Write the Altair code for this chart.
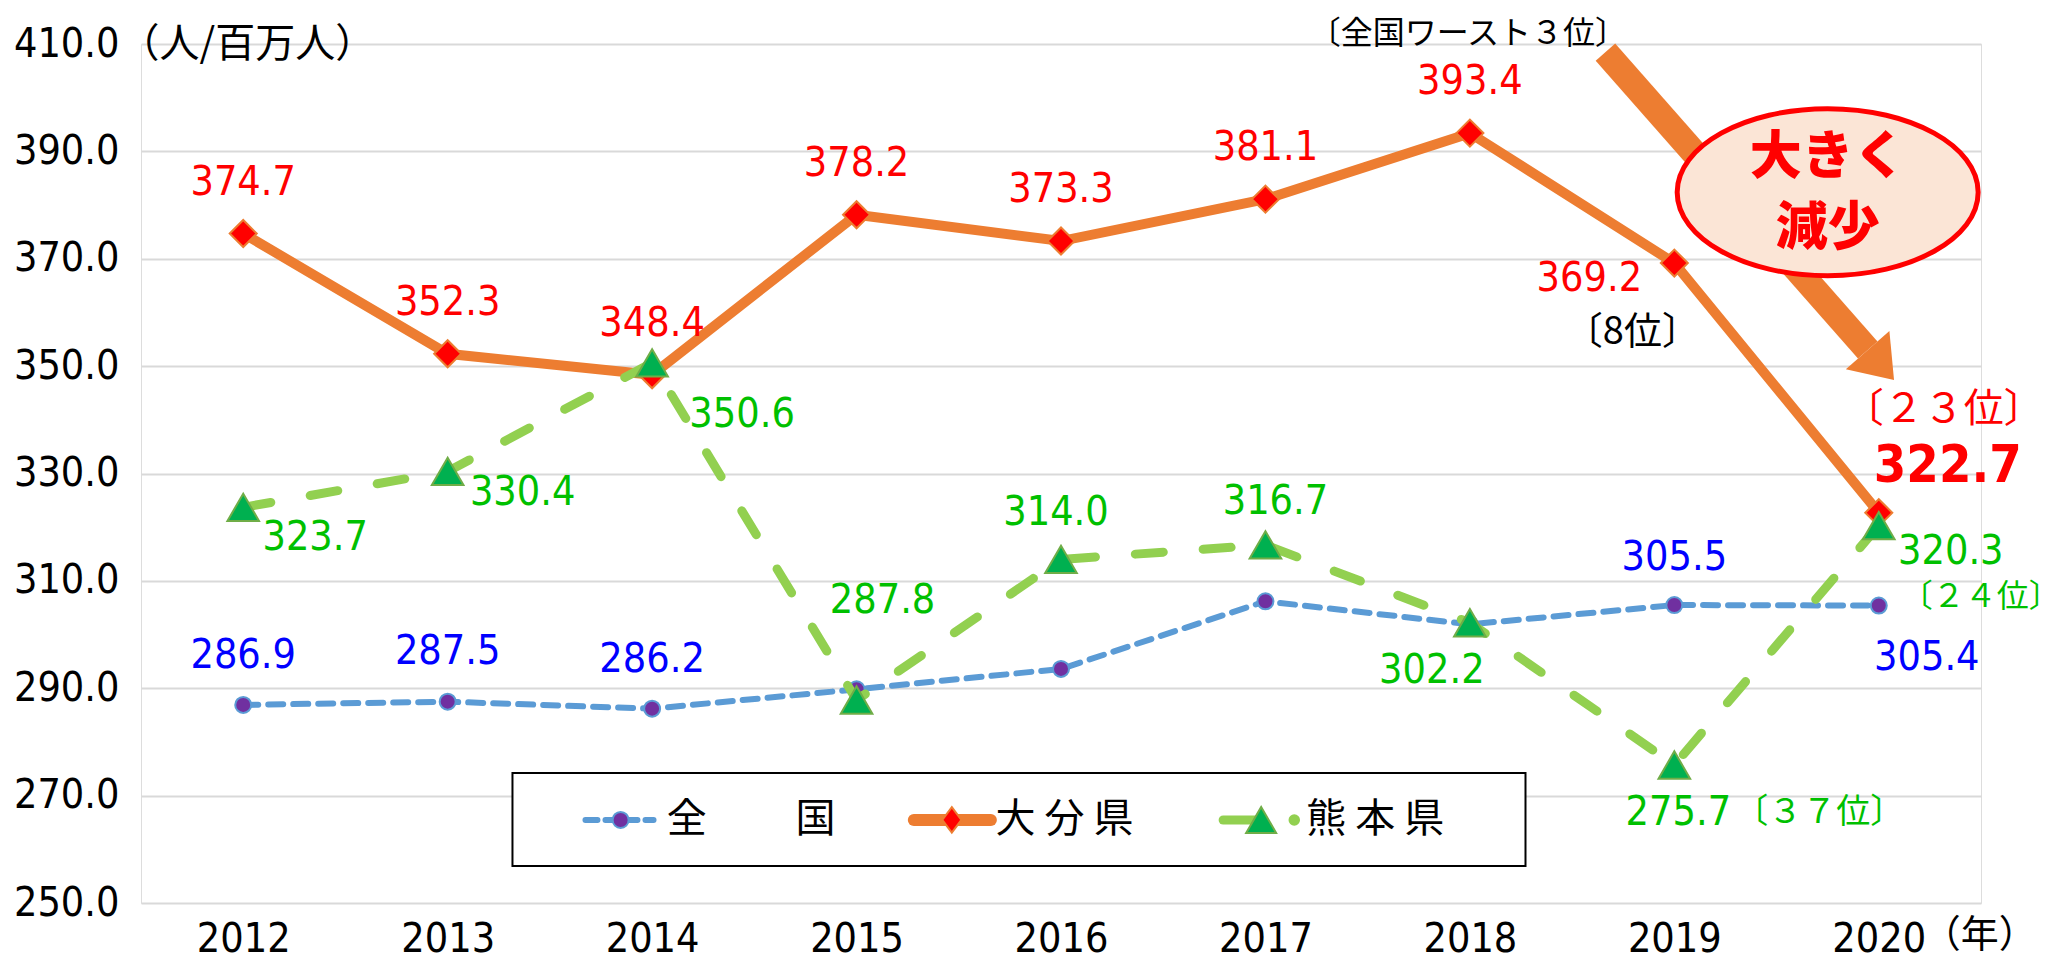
import altair as alt
import pandas as pd

# ---------------- data ----------------
years = [2012, 2013, 2014, 2015, 2016, 2017, 2018, 2019, 2020]
national = [286.9, 287.5, 286.2, 289.8, 293.6, 306.2, 301.9, 305.5, 305.4]
oita = [374.7, 352.3, 348.4, 378.2, 373.3, 381.1, 393.4, 369.2, 322.7]
kumamoto = [323.7, 330.4, 350.6, 287.8, 314.0, 316.7, 302.2, 275.7, 320.3]
y_ticks = [250, 270, 290, 310, 330, 350, 370, 390, 410]
series_names = ["全\u3000\u3000  国", "大 分 県", "熊 本 県"]
y_unit = "（人/百万人）"
x_unit = "（年）"
callout_lines = ["大きく", "減少"]
note_worst3 = "〔全国ワースト３位〕"
note_8 = "〔8位〕"
note_23 = "〔２３位〕"
note_37 = "〔３７位〕"
note_24 = "〔２４位〕"

# ---------------- styles ----------------
NUM_FONT = "Liberation Sans Narrow, DejaVu Sans Condensed, Noto Sans CJK JP, sans-serif"
CJK_FONT = "Noto Sans CJK JP"
NUM_SIZE = 41
BLUE_LINE = "#5B9BD5"
PURPLE = "#7030A0"
ORANGE = "#ED7D31"
RED = "#FF0000"
GREEN_LINE = "#92D050"
GREEN_MARK = "#00B050"
GREEN_MARK_STROKE = "#70AD47"
GREEN_TEXT = "#00C000"
BLUE_TEXT = "#0000FF"

xs = alt.Scale(domain=[2011.5, 2020.5], nice=False, zero=False)
ys = alt.Scale(domain=[250, 410], nice=False, zero=False)

x_axis = alt.Axis(values=years, format="d", grid=False, domain=False, ticks=False,
                  labelFont=NUM_FONT, labelFontSize=NUM_SIZE, labelColor="black",
                  labelBaseline="middle", labelPadding=36, title=None)
y_axis = alt.Axis(values=y_ticks, format=".1f", grid=True, gridColor="#D9D9D9", gridWidth=2,
                  domain=False, ticks=False, labelFont=NUM_FONT, labelFontSize=NUM_SIZE,
                  labelColor="black", labelPadding=22, labelBaseline="middle",
                  title=y_unit, titleAngle=0, titleAlign="left", titleBaseline="middle",
                  titleX=-22, titleY=0, titleFont=CJK_FONT, titleFontSize=40,
                  titleFontWeight="normal", titleColor="black")


def X(field="year"):
    return alt.X(f"{field}:Q", scale=xs, axis=x_axis)


def Y(field="value"):
    return alt.Y(f"{field}:Q", scale=ys, axis=y_axis)


def series_df(vals):
    return pd.DataFrame({"year": years, "value": vals})


def text_layer(x, y, text, dx=0, dy=0, color="black", size=NUM_SIZE, font=NUM_FONT,
               weight="normal", align="center"):
    df = pd.DataFrame({"year": [x], "value": [y], "label": [text]})
    return alt.Chart(df).mark_text(dx=dx, dy=dy, color=color, fontSize=size, font=font,
                                   fontWeight=weight, align=align,
                                   baseline="middle").encode(x=X(), y=Y(), text="label:N")


layers = []

# ---------- arrow + callout ----------
arrow = pd.DataFrame({"year": [2018.663], "value": [408.5], "year2": [2019.946], "value2": [353.0]})
layers.append(alt.Chart(arrow).mark_rule(strokeWidth=26, color=ORANGE, strokeCap="butt").encode(
    x=X(), y=Y(), x2="year2:Q", y2="value2:Q"))
head = pd.DataFrame({"year": [2020.010], "value": [350.2]})
layers.append(alt.Chart(head).mark_point(shape="M0,-0.69L1,0.69L-1,0.69Z", size=3364, angle=138.7,
                                         filled=True, fill=ORANGE, strokeWidth=0, opacity=1).encode(
    x=X(), y=Y()))
ELLIPSE = ("M-1,0 C-1,-0.3066 -0.5523,-0.555 0,-0.555 C0.5523,-0.555 1,-0.3066 1,0 "
           "C1,0.3066 0.5523,0.555 0,0.555 C-0.5523,0.555 -1,0.3066 -1,0 Z")
ell = pd.DataFrame({"year": [2019.75], "value": [382.4]})
layers.append(alt.Chart(ell).mark_point(shape=ELLIPSE, size=90601, filled=True, fill="#FBE5D6",
                                        stroke=RED, strokeWidth=5, opacity=1).encode(x=X(), y=Y()))
layers.append(text_layer(2019.75, 382.4, callout_lines[0], dy=-34, color=RED, size=52,
                         font=CJK_FONT, weight=900))
layers.append(text_layer(2019.75, 382.4, callout_lines[1], dy=37, color=RED, size=52,
                         font=CJK_FONT, weight=900))

# ---------- series lines & markers ----------
layers.append(alt.Chart(series_df(national)).mark_line(color=BLUE_LINE, strokeWidth=6,
                                                       strokeDash=[15, 10], strokeCap="round").encode(x=X(), y=Y()))
layers.append(alt.Chart(series_df(national)).mark_point(shape="circle", size=256, filled=True, fill=PURPLE,
                                                        stroke=BLUE_LINE, strokeWidth=2, opacity=1).encode(x=X(), y=Y()))
layers.append(alt.Chart(series_df(oita)).mark_line(color=ORANGE, strokeWidth=10).encode(x=X(), y=Y()))
layers.append(alt.Chart(series_df(oita)).mark_point(shape="diamond", size=729, filled=True, fill=RED,
                                                    stroke=ORANGE, strokeWidth=2, opacity=1).encode(x=X(), y=Y()))
layers.append(alt.Chart(series_df(kumamoto)).mark_line(color=GREEN_LINE, strokeWidth=9,
                                                       strokeDash=[28, 40], strokeCap="round").encode(x=X(), y=Y()))
layers.append(alt.Chart(series_df(kumamoto)).mark_point(shape="triangle-up", size=1000, filled=True,
                                                        fill=GREEN_MARK, stroke=GREEN_MARK_STROKE,
                                                        strokeWidth=2, opacity=1).encode(x=X(), y=Y()))

# ---------- data labels ----------
nat_lab = [(0, 0, -49), (1, 0, -50), (2, 0, -49), (7, 0, -47), (8, 48, 52)]
for i, dx, dy in nat_lab:
    layers.append(text_layer(years[i], national[i], f"{national[i]:.1f}", dx, dy, BLUE_TEXT))
oita_lab = [(0, 0, -51), (1, 0, -51), (2, 0, -51), (3, 0, -51), (4, 0, -51), (5, 0, -51),
            (6, 0, -51), (7, -85, 16)]
for i, dx, dy in oita_lab:
    layers.append(text_layer(years[i], oita[i], f"{oita[i]:.1f}", dx, dy, RED))
layers.append(text_layer(years[8], oita[8], f"{oita[8]:.1f}", 69, -47, RED, size=52, weight="bold"))
kum_lab = [(0, 72, 31), (1, 75, 22), (2, 90, 52), (3, 26, -99), (4, -5, -46), (5, 10, -43),
           (6, -38, 48), (7, 4, 48), (8, 72, 26)]
for i, dx, dy in kum_lab:
    layers.append(text_layer(years[i], kumamoto[i], f"{kumamoto[i]:.1f}", dx, dy, GREEN_TEXT))

# ---------- rank notes ----------
layers.append(text_layer(years[6], oita[6], note_worst3, -2, -99, "black", 32, CJK_FONT))
layers.append(text_layer(years[7], oita[7], note_8, -42, 70, "black", 38, CJK_FONT))
layers.append(text_layer(years[8], oita[8], note_23, 65, -103, RED, 40, CJK_FONT))
layers.append(text_layer(years[7], kumamoto[7], note_37, 60, 48, GREEN_TEXT, 34, CJK_FONT, align="left"))
layers.append(text_layer(years[8], kumamoto[8], note_24, 102, 71, GREEN_TEXT, 32, CJK_FONT))
layers.append(text_layer(years[8], 250, x_unit, 44, 33, "black", 38, CJK_FONT, align="left"))

# ---------- manual legend ----------
box = pd.DataFrame({"year": [2013.317], "year2": [2018.272], "value": [274.22], "value2": [256.9]})
layers.append(alt.Chart(box).mark_rect(fill="white", stroke="black", strokeWidth=2).encode(
    x=X(), x2="year2:Q", y=Y(), y2="value2:Q"))
LY = 265.47
leg_lines = [
    (2013.674, 2014.007, BLUE_LINE, 6, [12, 8]),
    (2015.280, 2015.657, ORANGE, 12, None),
    (2016.793, 2016.955, GREEN_LINE, 9, None),
]
for x1, x2, col, w, dash in leg_lines:
    df = pd.DataFrame({"year": [x1], "year2": [x2], "value": [LY]})
    kw = dict(color=col, strokeWidth=w, strokeCap="round")
    if dash:
        kw["strokeDash"] = dash
    layers.append(alt.Chart(df).mark_rule(**kw).encode(x=X(), x2="year2:Q", y=Y()))
leg_marks = [
    (2013.846, "circle", 256, PURPLE, BLUE_LINE),
    (2015.466, "M0,-1L0.75,0L0,1L-0.75,0Z", 650, RED, ORANGE),
    (2016.979, "triangle-up", 900, GREEN_MARK, GREEN_MARK_STROKE),
    (2017.141, "circle", 90, GREEN_LINE, GREEN_LINE),
]
for x1, shp, sz, fillc, strokec in leg_marks:
    df = pd.DataFrame({"year": [x1], "value": [LY]})
    layers.append(alt.Chart(df).mark_point(shape=shp, size=sz, filled=True, fill=fillc, stroke=strokec,
                                           strokeWidth=2, opacity=1).encode(x=X(), y=Y()))
leg_text_x = [2014.071, 2015.68, 2017.20]
for tx, name in zip(leg_text_x, series_names):
    layers.append(text_layer(tx, LY, name, 0, 0, "black", 40, CJK_FONT, align="left"))

chart = alt.layer(*layers).properties(
    width=1840, height=859,
    autosize=alt.AutoSizeParams(type="none"),
    padding={"left": 133, "top": 36, "right": 82, "bottom": 58},
).configure_view(stroke=None).configure(background="white")

chart.save("out.html", embed_options={"renderer": "svg", "actions": False})
